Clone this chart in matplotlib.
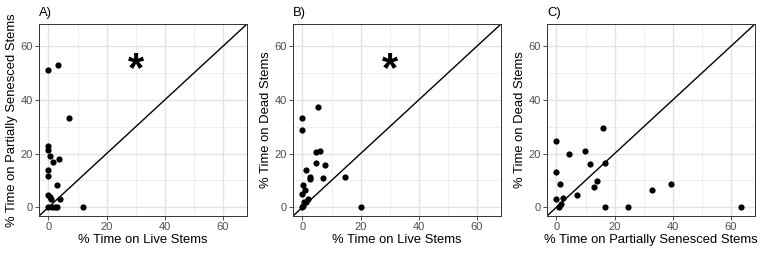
import matplotlib
matplotlib.use("Agg")
import matplotlib.pyplot as plt

plt.rcParams["font.family"] = ["Liberation Sans", "DejaVu Sans"]

# A) live vs partially senesced
a_live = [0, 3.3, 7.0, 0, 0, 0.6, 1.6, 3.6, 0, 0, 2.9, 0, 0.6, 0.8, 4.0, 0, 1.1, 2.1, 3.1, 11.8]
a_partial = [51.1, 52.8, 33.4, 23.0, 21.2, 19.1, 16.9, 18.0, 13.7, 11.8, 8.2, 4.7, 3.9, 3.1, 3.1, 0, 0, 0, 0, 0]

# B) live vs dead
b_live = [0, 0, 5.5, 4.5, 5.9, 4.7, 7.9, 1.1, 2.5, 2.5, 7.2, 14.5, 0.2, 0.9, 0, 0.6, 2.0, 1.1, 0, 0.2, 20.1]
b_dead = [33.3, 28.6, 37.4, 20.6, 21.1, 16.6, 15.7, 13.8, 11.2, 10.7, 10.9, 11.2, 8.3, 6.6, 5.1, 2.1, 2.9, 1.9, 0, 0.4, 0]

# C) partially senesced vs dead
c_partial = [0, 0, 0, 16.1, 4.4, 9.7, 11.4, 16.7, 1.3, 13.8, 13.0, 2.4, 7.0, 1.6, 0.9, 16.8, 24.6, 33.0, 39.4, 63.6]
c_dead = [24.5, 13.3, 3.1, 29.6, 20.0, 21.0, 16.3, 16.5, 8.8, 9.7, 7.7, 3.6, 4.7, 1.1, 0.2, 0, 0.1, 6.3, 8.8, 0]

panels = [
    ("A)", a_live, a_partial, "% Time on Live Stems", "% Time on Partially Senesced Stems", True),
    ("B)", b_live, b_dead, "% Time on Live Stems", "% Time on Dead Stems", True),
    ("C)", c_partial, c_dead, "% Time on Partially Senesced Stems", "% Time on Dead Stems", False),
]

W, H = 762, 254
fig = plt.figure(figsize=(W / 100, H / 100), dpi=100)

lims = (-3.25, 68.25)
for i, (tag, xs, ys, xlab, ylab, star) in enumerate(panels):
    left = 39 + 254 * i
    ax = fig.add_axes([left / W, 38 / H, 208 / W, 192 / H])
    ax.set_xlim(lims)
    ax.set_ylim(lims)
    ax.set_xticks([0, 20, 40, 60])
    ax.set_yticks([0, 20, 40, 60])
    ax.set_xticks([10, 30, 50], minor=True)
    ax.set_yticks([10, 30, 50], minor=True)
    ax.grid(True, which="major", color="#E3E3E3", lw=1.0)
    ax.grid(True, which="minor", color="#E8E8E8", lw=0.5)
    ax.set_axisbelow(True)
    ax.tick_params(which="minor", length=0)
    ax.tick_params(which="major", length=3, width=0.6, color="#333333",
                   labelsize=8, labelcolor="#4D4D4D", pad=1.5)
    for sp in ax.spines.values():
        sp.set_color("#333333")
        sp.set_linewidth(0.7)

    ax.axline((0, 0), slope=1, color="black", lw=1.0, zorder=2)
    ax.scatter(xs, ys, s=20, color="black", zorder=3, linewidths=0)
    if star:
        ax.text(30, 51, "*", fontsize=30, fontweight="bold", ha="center", va="center")

    ax.set_xlabel(xlab, fontsize=9.4, labelpad=1)
    ax.set_ylabel(ylab, fontsize=9.4, labelpad=2)
    ax.text(0, 1.025, tag, transform=ax.transAxes, fontsize=9.4, ha="left", va="bottom")

fig.savefig("out.png", dpi=100)
